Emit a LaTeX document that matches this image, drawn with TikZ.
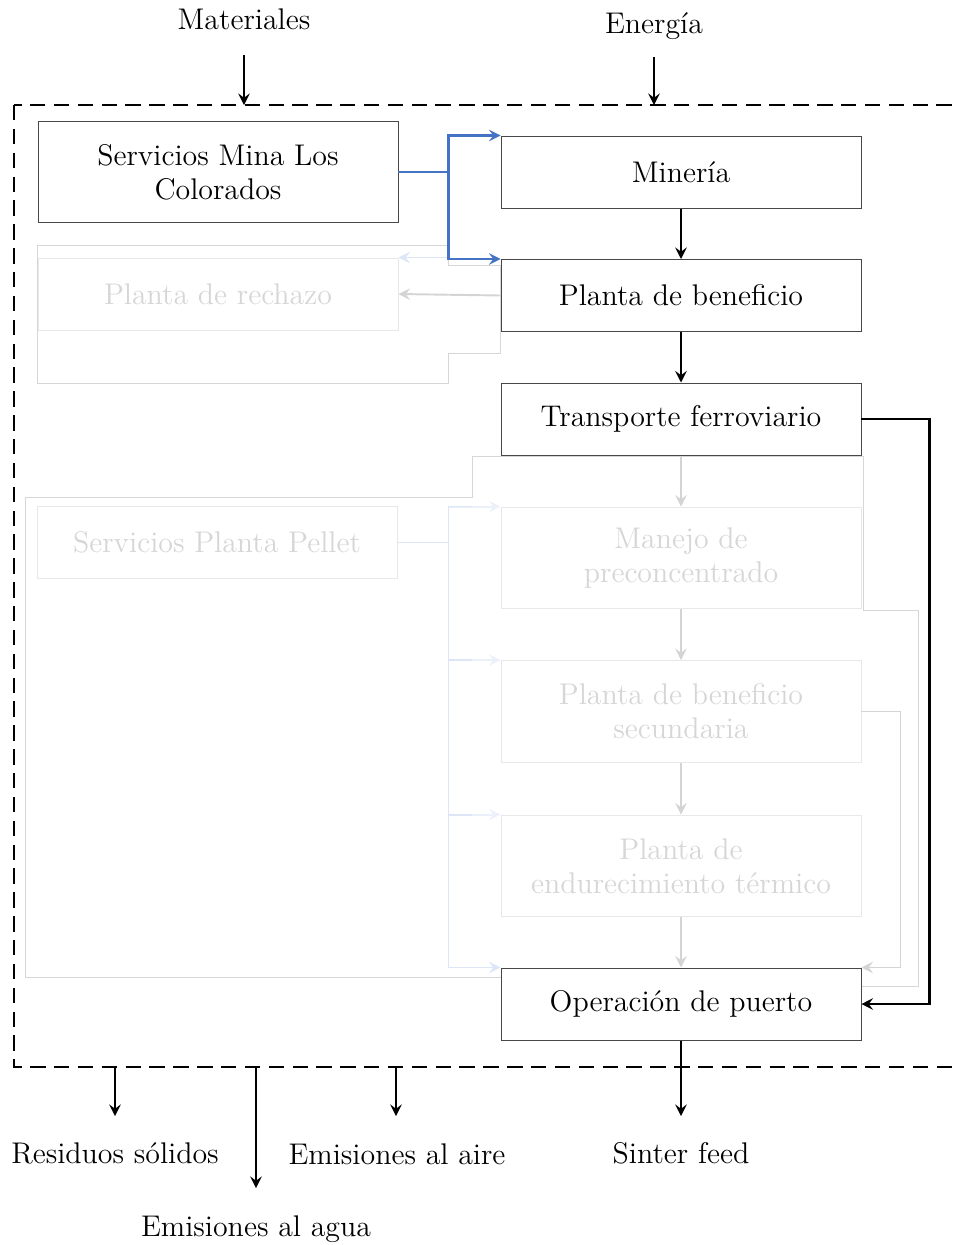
\documentclass[tikz,border=0pt]{standalone}
\usetikzlibrary{arrows.meta}
\definecolor{blueflow}{HTML}{4472C4}
\definecolor{bluefaint}{HTML}{DDE6F6}
\definecolor{bluefainter}{HTML}{EBF0FA}
\begin{document}
\begin{tikzpicture}[x=0.415pt,y=-0.415pt,
  >={Stealth[length=4.8pt,width=4.8pt,inset=1.8pt]},
  every node/.style={font=\fontsize{12.4}{14.1}\selectfont},
  box/.style={draw=black!72, fill=white, inner sep=0pt, align=center,
    minimum width=149.4pt, minimum height=29.9pt},
  tallbox/.style={box, minimum height=42.3pt},
  faded/.style={draw=black!9, text=black!16},
  lbl/.style={anchor=base, inner sep=0pt},
  flow/.style={->, line width=0.85pt, black},
  bflow/.style={->, line width=1pt, blueflow},
  bfaint/.style={->, thick, bluefaint},
  gflow/.style={->, thick, black!17},
  outline/.style={draw=black!16, line width=0.4pt},
  frame/.style={draw=black, line width=1.15pt, dash pattern=on 6.4pt off 3.5pt},
]
\useasboundingbox (0,0) rectangle (954,1245);
\clip (0,0) rectangle (954,1245);

% outlines of the two sub-process groups
\draw[outline] (37,245) -- (448,245) -- (448,265) -- (500,265) -- (500,353)
  -- (448,353) -- (448,383) -- (37,383) -- cycle;
\draw[outline] (25,497) -- (472,497) -- (472,456) -- (863,456) -- (863,610)
  -- (918,610) -- (918,986) -- (861,986) -- (861,977) -- (25,977) -- cycle;

% system boundary
\draw[frame] (14,105) rectangle (1000,1067);

% process boxes
\node[tallbox] (smlc) at (218,172) {Servicios Mina Los\\Colorados};
\node[box] (mineria) at (681,172) {Minería};
\node[box] (pb) at (681,295.5) {Planta de beneficio};
\node[box] (tf) at (681,419) {Transporte ferroviario};
\node[box, faded] (rechazo) at (218,294) {Planta de rechazo};
\node[box, faded] (spp) at (217,542.5) {Servicios Planta Pellet};
\node[tallbox, faded] (manejo) at (681,558) {Manejo de\\preconcentrado};
\node[tallbox, faded] (pbs) at (681,711.5) {Planta de beneficio\\secundaria};
\node[tallbox, faded] (pet) at (681,866) {Planta de\\endurecimiento térmico};
\node[box] (puerto) at (681,1004) {Operación de puerto};

% inputs and outputs
\node[lbl] (materiales) at (244,29) {Materiales};
\node[lbl] (energia) at (654,33) {Energía};
\node[lbl] (residuos) at (115,1163) {Residuos sólidos};
\node[lbl] (agua) at (256,1236) {Emisiones al agua};
\node[lbl] (aire) at (397,1164) {Emisiones al aire};
\node[lbl] (sinter) at (681,1163) {Sinter feed};

\coordinate (matA) at (244,55);   \coordinate (matB) at (244,105);
\coordinate (enA) at (654,57);    \coordinate (enB) at (654,105);
\coordinate (resA) at (115,1067); \coordinate (resB) at (115,1116);
\coordinate (aguA) at (256,1067); \coordinate (aguB) at (256,1188);
\coordinate (airA) at (396,1067); \coordinate (airB) at (396,1116);
\coordinate (sinB) at (681,1116);

\draw[flow] (matA) -- (matB);
\draw[flow] (enA) -- (enB);
\draw[flow] (resA) -- (resB);
\draw[flow] (aguA) -- (aguB);
\draw[flow] (airA) -- (airB);
\draw[flow] (puerto.south) -- (sinB);

% faded flows
\draw[gflow] (pb.west) -- (rechazo.east);
\draw[bfaint] (smlc.east) -- ++(50,0) |- (rechazo.north east);
\draw[gflow] (tf.south) -- (manejo.north);
\draw[gflow] (manejo.south) -- (pbs.north);
\draw[gflow] (pbs.south) -- (pet.north);
\draw[gflow] (pet.south) -- (puerto.north);
\draw[gflow] (pbs.east) -- ++(39,0) |- (puerto.north east);
\draw[bfaint] (spp.east) -- ++(51,0) |- (puerto.north west);
\draw[bfaint, bluefainter] (spp.east) -- ++(51,0) |- (pet.north west);
\draw[bfaint, bluefainter] (spp.east) -- ++(51,0) |- (pbs.north west);
\draw[bfaint, bluefainter] (spp.east) -- ++(51,0) |- (manejo.north west);
\draw[thick, bluefaint] (spp.east) -- ++(51,0) -- ++(0,-36) -- ++(24,0);
\draw[thick, bluefaint] (spp.east) ++(51,0) -- ++(0,117.5) -- ++(24,0);
\draw[thick, bluefaint] (spp.east) ++(51,0) -- ++(0,272.5) -- ++(24,0);

% main flows
\draw[bflow] (smlc.east) -- ++(50,0) |- (mineria.north west);
\draw[bflow] (smlc.east) -- ++(50,0) |- (pb.north west);
\draw[flow] (mineria.south) -- (pb.north);
\draw[flow] (pb.south) -- (tf.north);
\draw[flow] (tf.east) -- ++(68,0) |- (puerto.east);
\end{tikzpicture}
\end{document}
